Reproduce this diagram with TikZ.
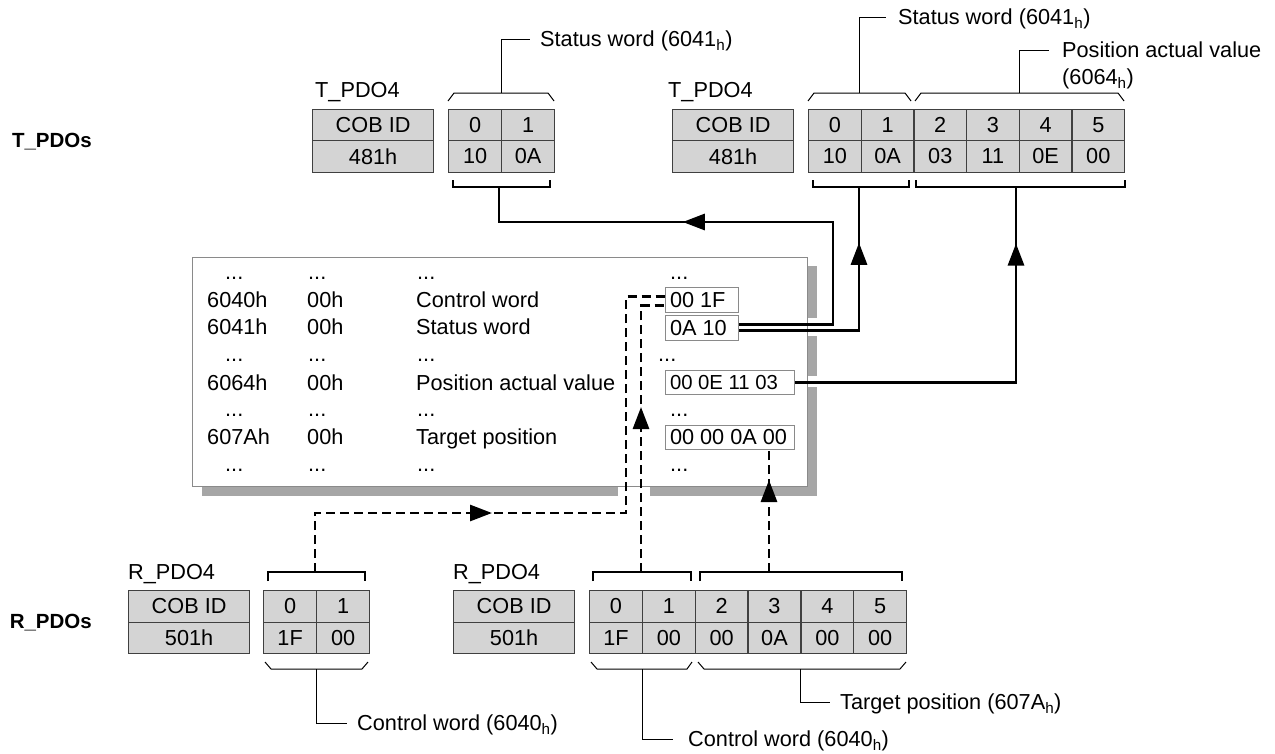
\documentclass[tikz,border=0pt]{standalone}
\usepackage{fontspec}
\setmainfont{Liberation Sans}
\usetikzlibrary{arrows.meta,decorations.markings,calc}
\definecolor{cellfill}{HTML}{D4D4D4}
\definecolor{cellline}{HTML}{404040}
\definecolor{shadowgray}{HTML}{A6A6A6}
\definecolor{framegray}{HTML}{8A8A8A}
\tikzset{
  txt/.style={font=\fontsize{21.7}{26}\selectfont, inner sep=0pt, text=black},
  cell/.style={txt, draw=cellline, fill=cellfill, line width=1.2pt, minimum height=31.5pt, anchor=north west},
  bytecell/.style={cell, minimum width=#1},
  cobcell/.style={cell, minimum width=121pt},
  lbl/.style={txt, anchor=base west},
  grplbl/.style={txt, font=\fontsize{20.5}{24}\selectfont\bfseries, anchor=base east},
  valbox/.style={txt, draw=framegray, fill=white, line width=1pt, anchor=north west, inner xsep=4.5pt, inner ysep=0pt},
  thinl/.style={line width=1pt, black},
  brk/.style={line width=2.8pt, black},
  conn/.style={line width=2.8pt, black},
  dconn/.style={conn, dash pattern=on 9pt off 5pt},
  tipmark/.style={postaction={decorate}, decoration={markings, mark=at position #1 with {\arrow{Triangle[length=22pt,width=16pt]}}}},
}
\begin{document}
\begin{tikzpicture}[x=1pt,y=-1pt]
\useasboundingbox (0,0) rectangle (1275,753);

% group labels
\node[grplbl] (gT) at (92,147) {T\_PDOs};
\node[grplbl] (gR) at (92,628.5) {R\_PDOs};

% ---------- top-left T_PDO4
\node[lbl] (tlname) at (315,97.7) {T\_PDO4};
\node[cobcell] (tlcob) at (312,108.5) {COB ID};
\node[cobcell] (tlid) at (312,140) {481h};
\foreach \i/\a/\b in {0/0/10,1/1/0A} {
  \node[bytecell=53pt] (tlh\i) at ({448+53*\i},108.5) {\a};
  \node[bytecell=53pt] (tlv\i) at ({448+53*\i},140) {\b};
}
\draw[thinl] (448,101) -- (454,93) -- (548,93) -- (554,101);
\coordinate (tlt) at (501,93);
\node[lbl] (lsw1) at (540,46.7) {Status word (6041\textsubscript{h})};
\draw[thinl] (tlt) |- ($(lsw1.base west)+(-10,-7.7)$);
\draw[brk] (453,180) -- (453,187) -- (550,187) -- (550,180);
\coordinate (tlb) at (499,187);

% ---------- top-right T_PDO4
\node[lbl] (trname) at (668,97.7) {T\_PDO4};
\node[cobcell] (trcob) at (672,108.5) {COB ID};
\node[cobcell] (trid) at (672,140) {481h};
\foreach \i/\a/\b in {0/0/10,1/1/0A,2/2/03,3/3/11,4/4/0E,5/5/00} {
  \node[bytecell=52.67pt] (trh\i) at ({808+52.67*\i},108.5) {\a};
  \node[bytecell=52.67pt] (trv\i) at ({808+52.67*\i},140) {\b};
}
\draw[thinl] (808,101) -- (814,93) -- (905,93) -- (911,101);
\draw[thinl] (915,101) -- (921,93) -- (1118,93) -- (1124,101);
\coordinate (trt1) at (859,93);
\coordinate (trt2) at (1019,93);
\node[lbl] (lsw2) at (898,24.7) {Status word (6041\textsubscript{h})};
\node[lbl] (lpav) at (1062,57.7) {Position actual value};
\node[lbl] (lpav2) at (1062,84.7) {(6064\textsubscript{h})};
\draw[thinl] (trt1) |- ($(lsw2.base west)+(-12,-7.7)$);
\draw[thinl] (trt2) |- ($(lpav.base west)+(-13,-7.7)$);
\draw[brk] (813,180) -- (813,187) -- (909,187) -- (909,180);
\draw[brk] (916,180) -- (916,187) -- (1125,187) -- (1125,180);
\coordinate (trb1) at (859,187);
\coordinate (trb2) at (1016,187);

% ---------- object dictionary box
\fill[shadowgray] (202,266) rectangle (817,496);
\filldraw[fill=white, draw=framegray, line width=1pt] (192,257) rectangle (807,486);
\fill[white] (807.6,318) rectangle (818,336);
\fill[white] (807.6,376) rectangle (818,387);
\fill[white] (618,486.6) rectangle (650,497);

\node[lbl] (r0c1) at (225,279.5) {...};
\node[lbl] (r0c2) at (308,279.5) {...};
\node[lbl] (r0c3) at (417,279.5) {...};
\node[lbl] (r0c4) at (670,279.5) {...};
\node[lbl] (r1c1) at (207,307.7) {6040h};
\node[lbl] (r1c2) at (307,307.7) {00h};
\node[lbl] (r1c3) at (416,307.7) {Control word};
\node[lbl] (r2c1) at (207,334.7) {6041h};
\node[lbl] (r2c2) at (307,334.7) {00h};
\node[lbl] (r2c3) at (416,334.7) {Status word};
\node[lbl] (r3c1) at (225,361) {...};
\node[lbl] (r3c2) at (308,361) {...};
\node[lbl] (r3c3) at (417,361) {...};
\node[lbl] (r3c4) at (658,361) {...};
\node[lbl] (r4c1) at (207,390.7) {6064h};
\node[lbl] (r4c2) at (307,390.7) {00h};
\node[lbl] (r4c3) at (416,390.7) {Position actual value};
\node[lbl] (r5c1) at (225,416) {...};
\node[lbl] (r5c2) at (308,416) {...};
\node[lbl] (r5c3) at (417,416) {...};
\node[lbl] (r5c4) at (670,416) {...};
\node[lbl] (r6c1) at (207,444.7) {607Ah};
\node[lbl] (r6c2) at (307,444.7) {00h};
\node[lbl] (r6c3) at (416,444.7) {Target position};
\node[lbl] (r7c1) at (225,471.5) {...};
\node[lbl] (r7c2) at (308,471.5) {...};
\node[lbl] (r7c3) at (417,471.5) {...};
\node[lbl] (r7c4) at (670,471.5) {...};

\node[valbox, minimum height=25pt] (v6040) at (665,287) {\makebox[64pt][l]{00 1F}};
\node[valbox, minimum height=25.5pt] (v6041) at (665,314.5) {\makebox[64pt][l]{0A 10}};
\node[valbox, minimum height=24pt, font=\fontsize{20.3}{24}\selectfont] (v6064) at (665,370) {\makebox[120pt][l]{00 0E 11 03}};
\node[valbox, minimum height=24.5pt] (v607A) at (665,424.5) {\makebox[120pt][l]{00 00 0A 00}};

% ---------- bottom-left R_PDO4
\node[lbl] (blname) at (128,579.7) {R\_PDO4};
\node[cobcell] (blcob) at (128,590) {COB ID};
\node[cobcell] (blid) at (128,621.5) {501h};
\foreach \i/\a/\b in {0/0/1F,1/1/00} {
  \node[bytecell=53pt] (blh\i) at ({263+53*\i},590) {\a};
  \node[bytecell=53pt] (blv\i) at ({263+53*\i},621.5) {\b};
}
\draw[brk] (268,581) -- (268,572) -- (365,572) -- (365,581);
\coordinate (blb) at (315,572);
\draw[thinl] (265,662) -- (271,669) -- (362,669) -- (368,662);
\coordinate (blt) at (316,669);
\node[lbl] (lcw1) at (357,730.7) {Control word (6040\textsubscript{h})};
\draw[thinl] (blt) |- ($(lcw1.base west)+(-10,-7.7)$);

% ---------- bottom-right R_PDO4
\node[lbl] (brname) at (453,579.7) {R\_PDO4};
\node[cobcell] (brcob) at (453,590) {COB ID};
\node[cobcell] (brid) at (453,621.5) {501h};
\foreach \i/\a/\b in {0/0/1F,1/1/00,2/2/00,3/3/0A,4/4/00,5/5/00} {
  \node[bytecell=52.83pt] (brh\i) at ({589+52.83*\i},590) {\a};
  \node[bytecell=52.83pt] (brv\i) at ({589+52.83*\i},621.5) {\b};
}
\draw[brk] (593,581) -- (593,572) -- (691,572) -- (691,581);
\draw[brk] (700,581) -- (700,572) -- (902,572) -- (902,581);
\coordinate (brb1) at (641,572);
\coordinate (brb2) at (769,572);
\draw[thinl] (591,662) -- (597,669) -- (687,669) -- (692,662);
\draw[thinl] (698,662) -- (704,669) -- (900,669) -- (906,662);
\coordinate (brt1) at (642,669);
\coordinate (brt2) at (800,669);
\node[lbl] (lcw2) at (688,746.7) {Control word (6040\textsubscript{h})};
\node[lbl] (ltp) at (840,709.7) {Target position (607A\textsubscript{h})};
\draw[thinl] (brt1) |- ($(lcw2.base west)+(-15,-7.7)$);
\draw[thinl] (brt2) |- ($(ltp.base west)+(-10,-7.7)$);

% ---------- connectors
\draw[conn, tipmark=347pt] ($(v6041.east)+(0,-3)$) -| (833,222) -| (tlb);
\draw[conn, tipmark=208pt] ($(v6041.east)+(0,3)$) -| (trb1);
\draw[conn, tipmark=360pt] (v6064.east) -| (trb2);
\draw[dconn, tipmark=236pt] (blb) |- (626,513) |- ($(v6040.west)+(0,-3.5)$);
\draw[dconn, tipmark=165pt] (brb1) |- ($(v6040.west)+(0,5.5)$);
\draw[dconn, tipmark=92pt] (brb2) -- (brb2 |- v607A.south);
\end{tikzpicture}
\end{document}
